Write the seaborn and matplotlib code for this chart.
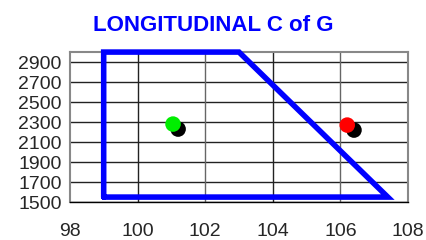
import matplotlib
matplotlib.use("Agg")
import matplotlib.pyplot as plt
import seaborn as sns
import pandas as pd

env_x = [99.0, 99.0, 103.0, 107.4, 99.0]
env_y = [1550, 3000, 3000, 1550, 1550]
pt_x = [101.2, 101.05, 106.4, 106.2]
pt_y = [2230, 2280, 2220, 2270]
pt_c = ["#000000", "#00ee00", "#000000", "#ff0000"]
xticks = [98, 100, 102, 104, 106, 108]
yticks = [1500, 1700, 1900, 2100, 2300, 2500, 2700, 2900]

sns.set_theme(style="white")
plt.rcParams['font.family'] = ['Liberation Sans', 'DejaVu Sans']

fig = plt.figure(figsize=(4.26, 2.40), dpi=100)
ax = fig.add_axes([0.164, 0.158, 0.794, 0.625])

env = pd.DataFrame({"x": env_x, "y": env_y, "o": range(len(env_x))})
sns.lineplot(data=env, x="x", y="y", sort=False, estimator=None, color="#0000ff",
             linewidth=4, ax=ax, zorder=3, solid_joinstyle="miter", clip_on=False)
pts = pd.DataFrame({"x": pt_x, "y": pt_y, "c": pt_c})
for i, r in pts.iterrows():
    sns.scatterplot(x=[r.x], y=[r.y], color=r.c, s=125, edgecolor="none", ax=ax, zorder=4)

ax.set_xlim(98, 108)
ax.set_ylim(1500, 3000)
ax.set_xticks(xticks)
ax.set_yticks(yticks)
ax.set_xticklabels([str(v) for v in xticks], fontsize=14)
ax.set_yticklabels([str(v) for v in yticks], fontsize=14)
ax.tick_params(axis="x", direction="inout", length=6, width=1, color="black", pad=12)
ax.tick_params(axis="y", direction="out", length=4, width=1, color="black", pad=2)
for y in yticks:
    ax.axhline(y, color="#222222", linewidth=1, zorder=1)
for x in [100, 102, 104, 106]:
    ax.axvline(x, color="#222222" if x in (100, 104) else "#666666", linewidth=1, zorder=1)
for s in ["top", "right", "left"]:
    ax.spines[s].set_color("#888888")
    ax.spines[s].set_linewidth(1.5)
ax.spines["bottom"].set_color("black")
ax.spines["bottom"].set_linewidth(1)
ax.set_xlabel("")
ax.set_ylabel("")
fig.text(0.5, 0.893, "LONGITUDINAL C of G", ha="center", va="center", color="#0000ff",
         fontsize=16, fontweight="bold")
fig.savefig("out.png", dpi=100)
